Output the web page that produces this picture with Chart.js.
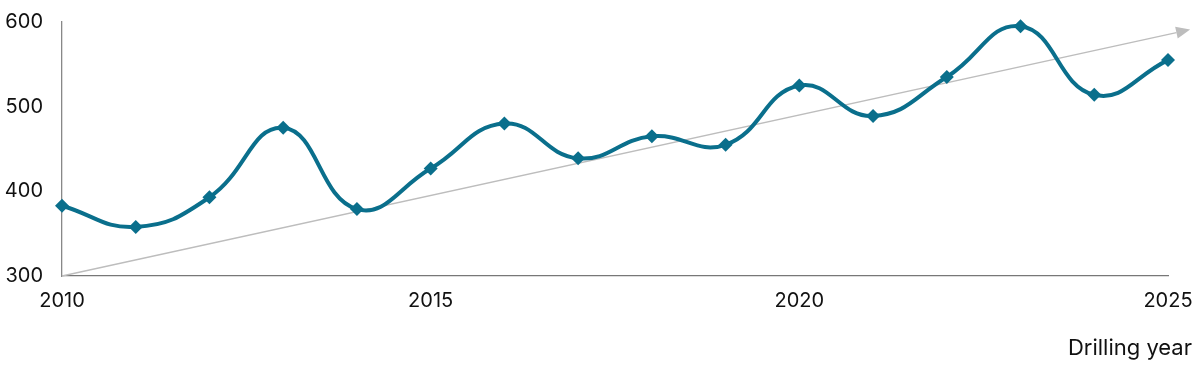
<!DOCTYPE html>
<html>
<head>
<meta charset="utf-8">
<script src="https://cdn.jsdelivr.net/npm/chart.js"></script>
<style>
  html, body { margin: 0; padding: 0; background: #fff; }
  #wrap { width: 1200px; height: 368px; position: relative; }
</style>
</head>
<body>
<div id="wrap"><canvas id="drilling"></canvas></div>
<script>
const years = [2010, 2011, 2012, 2013, 2014, 2015, 2016, 2017, 2018, 2019, 2020, 2021, 2022, 2023, 2024, 2025];
const depths = [383, 358, 393, 475, 379, 427, 480, 439, 465, 455, 525, 489, 535, 595, 514, 555];
const xTicks = [2010, 2015, 2020, 2025];
const yTicks = [300, 400, 500, 600];
// trend arrow, in data units
const trendStart = [2010, 300];
const trendEnd = [2025.3, 591];
const xTitle = 'Drilling year';

const teal = '#0a6f8c';
const font = { family: 'Inter, "Noto Sans", sans-serif', size: 20 };

const trendArrow = {
  id: 'trendArrow',
  beforeDatasetsDraw(chart) {
    const { ctx, scales: { x, y } } = chart;
    const x0 = x.getPixelForValue(trendStart[0]), y0 = y.getPixelForValue(trendStart[1]);
    const x1 = x.getPixelForValue(trendEnd[0]), y1 = y.getPixelForValue(trendEnd[1]);
    const ang = Math.atan2(y1 - y0, x1 - x0);
    const len = 14, half = 6;
    const bx = x1 - len * Math.cos(ang), by = y1 - len * Math.sin(ang);
    ctx.save();
    ctx.strokeStyle = '#bdbdbd';
    ctx.lineWidth = 1.3;
    ctx.beginPath();
    ctx.moveTo(x0, y0);
    ctx.lineTo(bx, by);
    ctx.stroke();
    ctx.fillStyle = '#bdbdbd';
    ctx.beginPath();
    ctx.moveTo(x1, y1);
    ctx.lineTo(bx + half * Math.sin(ang), by - half * Math.cos(ang));
    ctx.lineTo(bx - half * Math.sin(ang), by + half * Math.cos(ang));
    ctx.closePath();
    ctx.fill();
    ctx.restore();
  },
  afterDraw(chart) {
    const { ctx } = chart;
    ctx.save();
    ctx.font = '22px ' + font.family;
    ctx.fillStyle = '#111';
    ctx.textAlign = 'right';
    ctx.textBaseline = 'middle';
    ctx.fillText(xTitle, 1192, 348);
    ctx.restore();
  }
};

new Chart(document.getElementById('drilling'), {
  type: 'line',
  data: {
    datasets: [{
      data: years.map((yr, i) => ({ x: yr, y: depths[i] })),
      borderColor: teal,
      backgroundColor: teal,
      borderWidth: 4,
      tension: 0.45,
      pointStyle: 'rectRot',
      pointRadius: 7,
      pointBorderWidth: 0,
      clip: false
    }]
  },
  plugins: [trendArrow],
  options: {
    responsive: true,
    maintainAspectRatio: false,
    animation: false,
    layout: { padding: { top: 22, right: 32, bottom: 0, left: 0 } },
    plugins: { legend: { display: false }, tooltip: { enabled: false } },
    scales: {
      x: {
        type: 'linear',
        min: 2010,
        max: 2025,
        afterBuildTicks: s => { s.ticks = xTicks.map(v => ({ value: v })); },
        afterFit: s => { s.height = 92; s.paddingLeft = 0; s.paddingRight = 0; },
        grid: { display: false, drawTicks: false },
        border: { color: '#777', width: 1.3 },
        ticks: { color: '#111', font, padding: 13, maxRotation: 0, callback: v => String(v) }
      },
      y: {
        min: 300,
        max: 600,
        afterBuildTicks: s => { s.ticks = yTicks.map(v => ({ value: v })); },
        afterFit: s => { s.width = 62; s.paddingTop = 0; s.paddingBottom = 0; },
        grid: { display: false, drawTicks: false },
        border: { color: '#888', width: 1.3 },
        ticks: { color: '#111', font, padding: 19 }
      }
    }
  }
});
</script>
</body>
</html>
